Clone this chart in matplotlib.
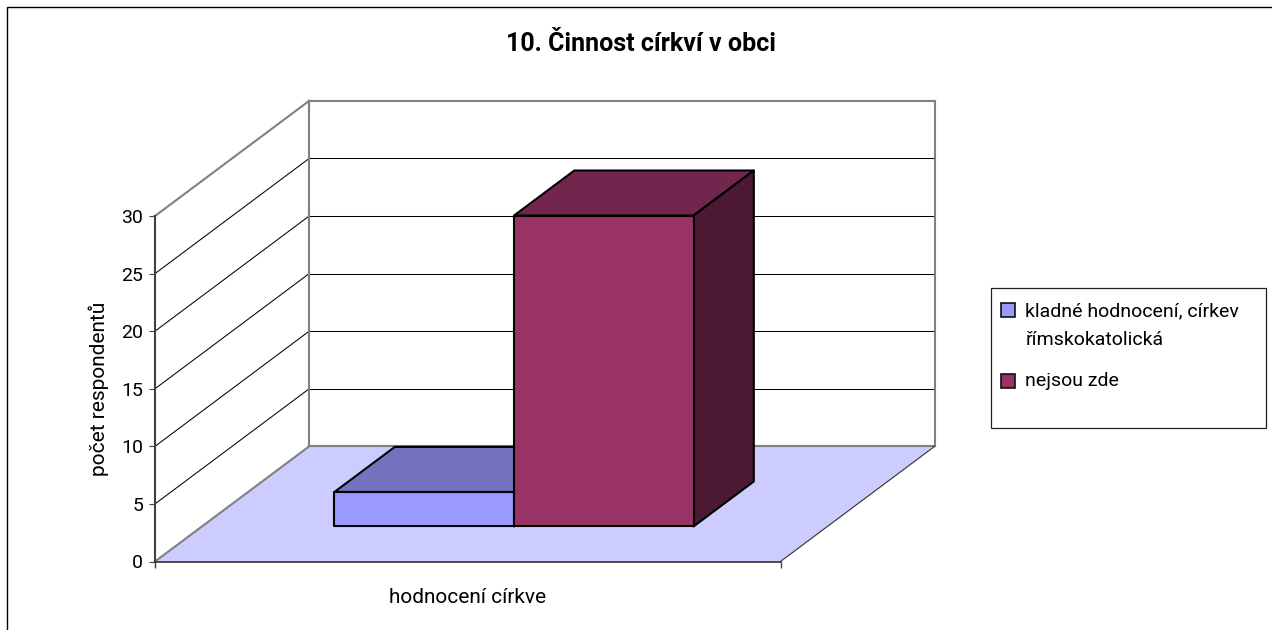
import matplotlib
import matplotlib.pyplot as plt
from matplotlib.patches import Polygon, Rectangle

matplotlib.use('Agg')

title = '10. Činnost církví v obci'
x_label = 'hodnocení církve'
y_label = 'počet respondentů'
series_names = ['kladné hodnocení, církev\nřímskokatolická', 'nejsou zde']
series_values = [3, 27]
y_ticks = [0, 5, 10, 15, 20, 25, 30]

FONT = ['Roboto', 'DejaVu Sans']
FONT_SIZE = 14
LABEL_SIZE = 15
W, H = 1272, 630

# fake 3d: how far the back of the box is shifted from the front, in data units
SHIFT_X = 0.2465
SHIFT_Y = 10.0
BAR_FRONT = 0.304
BAR_BACK = 0.695
BAR_LEFT = 0.212
BAR_WIDTH = 0.287

FACES = [('#9999FF', '#7373BF', '#4C4C80'), ('#993366', '#73264D', '#4C1933')]


def proj(x, y, depth):
    return x + depth * SHIFT_X, y + depth * SHIFT_Y


def draw_box(ax, left, width, value, colors):
    front, top, side = colors
    right = left + width
    faces = [
        ([(left, value, BAR_FRONT), (right, value, BAR_FRONT), (right, value, BAR_BACK), (left, value, BAR_BACK)], top),
        ([(right, 0, BAR_FRONT), (right, 0, BAR_BACK), (right, value, BAR_BACK), (right, value, BAR_FRONT)], side),
        ([(left, 0, BAR_FRONT), (right, 0, BAR_FRONT), (right, value, BAR_FRONT), (left, value, BAR_FRONT)], front),
    ]
    for pts, color in faces:
        ax.add_patch(Polygon([proj(*p) for p in pts], closed=True, facecolor=color, edgecolor='black',
                             linewidth=1.5, clip_on=False, zorder=4, joinstyle='round'))


def main():
    fig = plt.figure(figsize=(W / 100, H / 100), dpi=100)
    fig.add_artist(Rectangle((7 / W, -0.1), 1.2, 0.1 + (H - 7.5) / H, transform=fig.transFigure,
                             facecolor='none', edgecolor='black', linewidth=1))

    ax = fig.add_axes([155 / W, (H - 561.5) / H, 625.5 / W, 345.5 / H])
    ax.patch.set_visible(False)
    ax.set_xlim(0, 1)
    ax.set_ylim(0, 30)

    top = y_ticks[-1]
    # floor
    floor = [proj(0, 0, 0), proj(1, 0, 0), proj(1, 0, 1), proj(0, 0, 1)]
    ax.add_patch(Polygon(floor, closed=True, facecolor='#CCCCFF', edgecolor='none', clip_on=False, zorder=1))

    # walls and grid
    for v in y_ticks:
        is_edge = v in (0, top)
        color = '#808080' if is_edge else 'black'
        lw = 1.5 if is_edge else 0.75
        x0, y0 = proj(0, v, 0)
        x1, y1 = proj(0, v, 1)
        x2, y2 = proj(1, v, 1)
        ax.plot([x0, x1], [y0, y1], color=color, lw=lw, clip_on=False, zorder=2)
        ax.plot([x1, x2], [y1, y2], color=color, lw=lw, clip_on=False, zorder=2)
    x1, y1 = proj(0, 0, 1)
    x2, y2 = proj(0, top, 1)
    ax.plot([x1, x2], [y1, y2], color='#808080', lw=1.5, clip_on=False, zorder=2)
    x1, y1 = proj(1, 0, 1)
    x2, y2 = proj(1, top, 1)
    ax.plot([x1, x2], [y1, y2], color='#808080', lw=1.5, clip_on=False, zorder=2)
    x1, y1 = proj(1, 0, 1)
    ax.plot([1, x1], [0, y1], color='#303030', lw=0.8, clip_on=False, zorder=2)

    for i, value in enumerate(series_values):
        draw_box(ax, BAR_LEFT + i * BAR_WIDTH, BAR_WIDTH, value, FACES[i])

    for side in ('top', 'right'):
        ax.spines[side].set_visible(False)
    ax.spines['left'].set_color('#404040')
    ax.spines['left'].set_linewidth(1.5)
    ax.spines['bottom'].set_color('#303030')
    ax.spines['bottom'].set_linewidth(1.2)
    ax.set_yticks(y_ticks)
    ax.set_xticks([0, 1], ['', ''])
    ax.tick_params(axis='y', length=4.5, width=0.8, color='#404040', pad=4, labelsize=FONT_SIZE)
    ax.tick_params(axis='x', length=4.5, width=1.0, color='#404040')
    for lbl in ax.get_yticklabels():
        lbl.set_fontfamily(FONT)
    ax.set_xlabel(x_label, family=FONT, fontsize=LABEL_SIZE, labelpad=11)
    ax.set_ylabel(y_label, family=FONT, fontsize=LABEL_SIZE, labelpad=9)

    fig.text(641 / W, (H - 44) / H, title, family=FONT, fontsize=18, fontweight='bold',
             ha='center', va='center', color='black')

    # legend box
    fig.add_artist(Rectangle((991.5 / W, (H - 427.5) / H), 274.5 / W, 139.5 / H, transform=fig.transFigure,
                             facecolor='white', edgecolor='#202020', linewidth=0.9))
    swatch_y = [310, 381]
    text_y = [326, 381]
    for name, colors, sy, ty in zip(series_names, FACES, swatch_y, text_y):
        fig.add_artist(Rectangle((1001 / W, (H - sy - 7) / H), 14 / W, 14 / H, transform=fig.transFigure,
                                 facecolor=colors[0], edgecolor='#101010', linewidth=1.2))
        fig.text(1025 / W, (H - ty) / H, name, family=FONT, fontsize=FONT_SIZE, ha='left', va='center',
                 linespacing=1.75)

    fig.savefig('out.png', dpi=100)


if __name__ == '__main__':
    main()
